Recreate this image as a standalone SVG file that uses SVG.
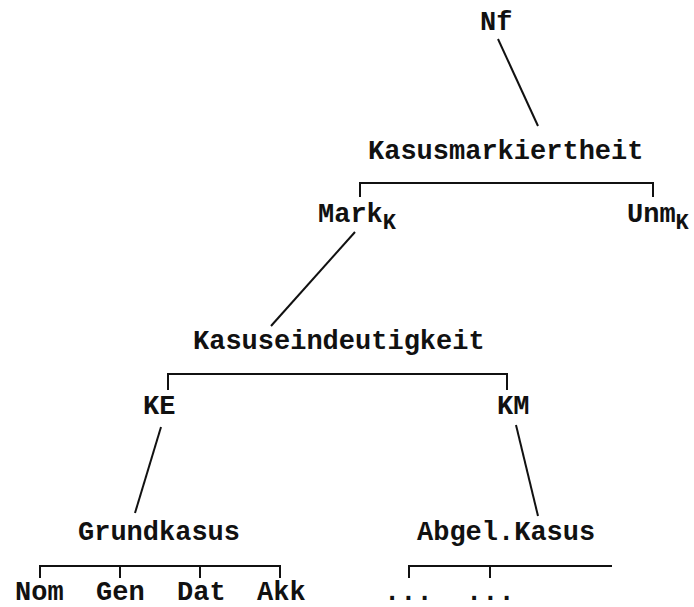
<svg xmlns="http://www.w3.org/2000/svg" width="694" height="607" viewBox="0 0 694 607">
<style>
text{font-family:"Liberation Mono","Courier New",monospace;font-weight:bold;font-size:27px;fill:#111}
.sub{font-size:22px}
line,path{stroke:#111;stroke-width:2;fill:none}
</style>
<rect width="694" height="607" fill="#fff"/>
<g id="connectors">
<line x1="498" y1="39" x2="538" y2="126"/>
<path d="M360,197 V183 H653 V197"/>
<line x1="355" y1="232" x2="271" y2="326"/>
<path d="M168,390 V374 H507 V390"/>
<line x1="161" y1="427" x2="135" y2="513"/>
<line x1="516" y1="425" x2="538" y2="516"/>
<path d="M40,578 V566 H280 V578 M120,566 V578 M200,566 V578"/>
<path d="M409,578 V566 H612 M490,566 V578"/>
</g>
<g id="n-nf"><text x="480" y="30">Nf</text></g>
<g id="n-kasusmarkiertheit"><text x="368" y="159">Kasusmarkiertheit</text></g>
<g id="n-mark"><text x="318" y="222">Mark<tspan class="sub" dy="7">K</tspan></text></g>
<g id="n-unm"><text x="627" y="222">Unm<tspan class="sub" dy="7">K</tspan></text></g>
<g id="n-kasuseindeutigkeit"><text x="193" y="349">Kasuseindeutigkeit</text></g>
<g id="n-ke"><text x="143" y="414">KE</text></g>
<g id="n-km"><text x="497" y="414">KM</text></g>
<g id="n-grundkasus"><text x="78" y="540">Grundkasus</text></g>
<g id="n-abgel"><text x="417" y="540">Abgel.Kasus</text></g>
<g id="n-nom"><text x="15" y="600">Nom</text></g>
<g id="n-gen"><text x="96" y="600">Gen</text></g>
<g id="n-dat"><text x="177" y="600">Dat</text></g>
<g id="n-akk"><text x="257" y="600">Akk</text></g>
<g id="n-dots1"><text x="384" y="600">...</text></g>
<g id="n-dots2"><text x="466" y="600">...</text></g>
</svg>
